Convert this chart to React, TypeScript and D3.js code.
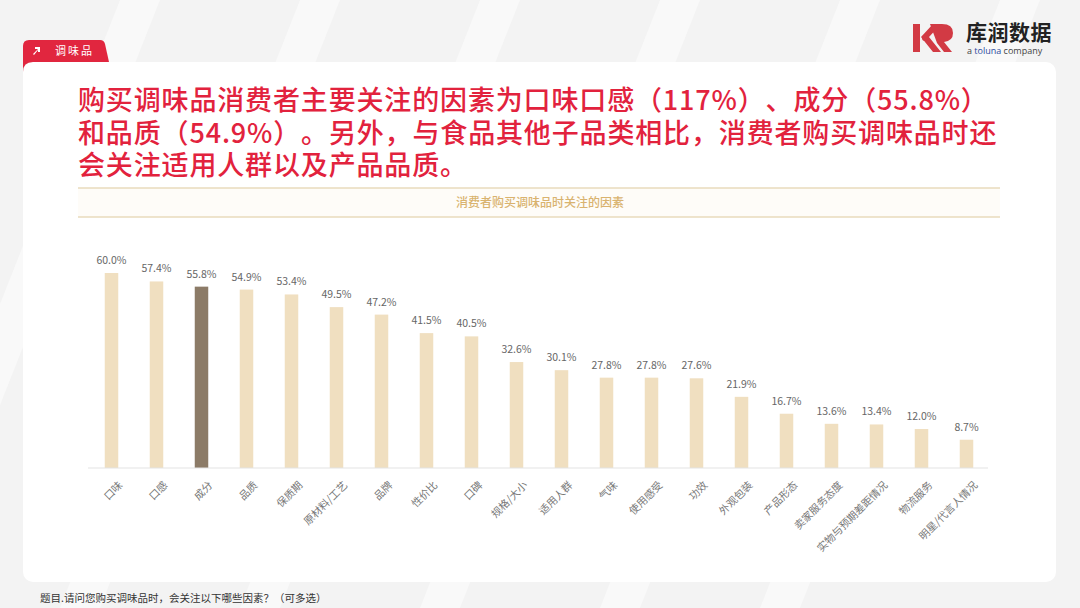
import React from "react";
import * as d3 from "d3";

const categories = ["口味","口感","成分","品质","保质期","原材料/工艺","品牌","性价比","口碑","规格/大小","适用人群","气味","使用感受","功效","外观包装","产品形态","卖家服务态度","实物与预期差距情况","物流服务","明星/代言人情况"];
const values = [60.0,57.4,55.8,54.9,53.4,49.5,47.2,41.5,40.5,32.6,30.1,27.8,27.8,27.6,21.9,16.7,13.6,13.4,12.0,8.7];
const highlight = "成分";
const titleLines = [
  "购买调味品消费者主要关注的因素为口味口感（117%）、成分（55.8%）",
  "和品质（54.9%）。另外，与食品其他子品类相比，消费者购买调味品时还",
  "会关注适用人群以及产品品质。",
];
const chartTitle = "消费者购买调味品时关注的因素";
const footnote = "题目.请问您购买调味品时，会关注以下哪些因素？（可多选）";
const tabLabel = "调味品";

const FONT = "'Noto Sans CJK SC', 'Noto Sans', sans-serif";

export default function App() {
  const W = 1080, H = 608;
  const x = d3.scaleBand<string>().domain(categories).range([89, 989]).paddingInner(0.7).paddingOuter(0.35);
  const y = d3.scaleLinear().domain([0, 60]).range([468, 273]);
  const bw = x.bandwidth();
  return (
    <svg width={W} height={H} style={{ position: "fixed", top: 0, left: 0, fontFamily: FONT }}>
      <rect width={W} height={H} fill="#f3f3f3" />
      {[120, 300, 480, 660, 840, 1000].map((sx, i) => (
        <polygon key={i} points={`${sx},0 ${sx + 40},0 ${sx - 200},${H} ${sx - 240},${H}`} fill="#fafafa" opacity={0.8} />
      ))}
      {/* card */}
      <rect x={23} y={62} width={1033} height={520} rx={10} fill="#ffffff" />
      {/* tab */}
      <path d="M23,62 L23,46 Q23,40 29,40 L100,40 Q104,40 105,44 L109,62 Z" fill="#e1263f" />
      <path d="M23,62 L23,72 Q23,62 33,62 Z" fill="#e1263f" />
      <g transform="translate(36,51)">
        <path d="M-3,3 L2,-2 L-1,-2 L-1,-4 L4,-4 L4,1 L2,1 L2,-1 L-2,4 Z" fill="#ffffff" />
      </g>
      <text x={55} y={55} fill="#ffffff" fontSize={11} letterSpacing={2}>{tabLabel}</text>
      {/* logo */}
      <g>
        <path d="M913,24 L920,24 L920,52 L913,52 Z" fill="#d23a44" />
        <path d="M921,37 L933,24 L941,24 L929,37 L941,52 L933,52 Z" fill="#d23a44" />
        <path d="M930,24 L942,24 Q953,24 953,33 Q953,41 944,42 L952,52 L944,52 L937,43 Z" fill="#d23a44" />
        <circle cx={925} cy={38} r={3} fill="#d23a44" />
        <text x={966} y={40} fontSize={21} fontWeight={700} fill="#222" letterSpacing={0.5}>库润数据</text>
        <text x={967} y={54} fontSize={9} fill="#444" fontFamily="'Open Sans', sans-serif">a <tspan fill="#2b4aa0">toluna</tspan> company</text>
      </g>
      {/* title */}
      {titleLines.map((t, i) => (
        <text key={i} x={78} y={110 + i * 32.5} fontSize={27} fontWeight={500} fill="#e2223d" letterSpacing={0.85}
          style={{ textSpacingTrim: "space-all" } as any}>{t}</text>
      ))}
      {/* chart title band */}
      <rect x={78} y={188} width={922} height={29} fill="#fefcf8" />
      <line x1={78} x2={1000} y1={188} y2={188} stroke="#e9dbbd" strokeWidth={1.5} />
      <line x1={78} x2={1000} y1={217} y2={217} stroke="#e9dbbd" strokeWidth={1.5} />
      <text x={540} y={207} textAnchor="middle" fontSize={12} fontWeight={500} fill="#d9b36f">{chartTitle}</text>
      {/* bars */}
      {categories.map((c, i) => {
        const bx = x(c)!;
        const cx = bx + bw / 2;
        const top = y(values[i]);
        return (
          <g key={c}>
            <rect x={bx} y={top} width={bw} height={y(0) - top} fill={c === highlight ? "#8c7b67" : "#f0dfc0"} />
            <text x={cx} y={top - 9} textAnchor="middle" fontSize={10.5} fill="#666">{values[i].toFixed(1)}%</text>
            <text transform={`translate(${cx + 5},${479}) rotate(-45)`} textAnchor="end" dominantBaseline="hanging" fontSize={10.5} fill="#777">{c}</text>
          </g>
        );
      })}
      <line x1={88} x2={988} y1={y(0)} y2={y(0)} stroke="#e3e3e3" strokeWidth={1} />
      <text x={40} y={602} fontSize={10.5} fill="#333" style={{ textSpacingTrim: "space-all" } as any}>{footnote}</text>
    </svg>
  );
}
